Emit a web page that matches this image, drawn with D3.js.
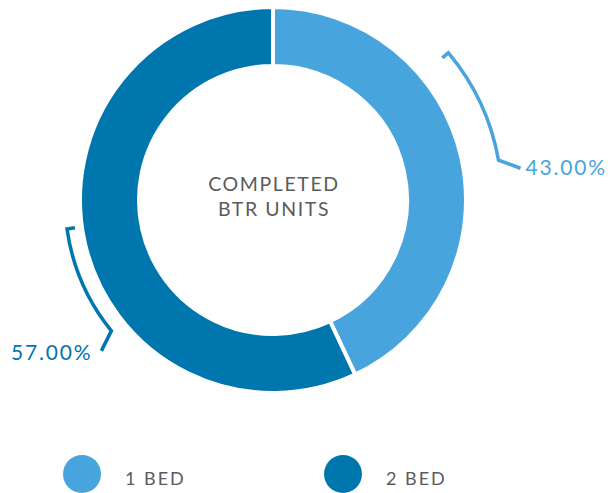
<!DOCTYPE html>
<html>
<head>
<meta charset="utf-8">
<script src="https://cdn.jsdelivr.net/npm/d3@7"></script>
<style>
  html, body { margin: 0; padding: 0; background: #fff; }
  svg { display: block; }
  text { font-family: "Lato", "Open Sans", sans-serif; }
</style>
</head>
<body>
<svg id="chart" width="615" height="493"></svg>
<script>
// Unit mix of completed build-to-rent units
const categories = ["1 BED", "2 BED"];
const shares = [43, 57];
const valueLabels = ["43.00%", "57.00%"];
const colors = ["#47a4dc", "#0076ae"];
const centerLines = ["COMPLETED", "BTR UNITS"];

const svg = d3.select("#chart");
const cx = 273, cy = 200;
const outerR = 193, innerR = 134;

const deg = d => d * Math.PI / 180;

const pie = d3.pie().sort(null).value(d => d.value);
const arcs = pie(categories.map((c, i) => ({ name: c, value: shares[i], color: colors[i], label: valueLabels[i] })));

const arc = d3.arc().innerRadius(innerR).outerRadius(outerR);

const g = svg.append("g").attr("transform", `translate(${cx},${cy})`);

g.selectAll("path.slice")
  .data(arcs)
  .join("path")
  .attr("class", "slice")
  .attr("d", arc)
  .attr("fill", d => d.data.color)
  .attr("stroke", "#fff")
  .attr("stroke-width", 4)
  .attr("stroke-linejoin", "miter");

// Centre caption
g.append("text")
  .attr("text-anchor", "middle")
  .attr("fill", "#5b5b5b")
  .attr("font-size", 19.5)
  .attr("letter-spacing", 1.6)
  .selectAll("tspan")
  .data(centerLines)
  .join("tspan")
  .attr("x", 1)
  .attr("y", (d, i) => -9 + i * 25)
  .text(d => d);

// Bracket callouts: arc outside the ring with an inward tick and a leader to the label
const brackets = [
  { r: 229, from: 50, to: 80, tick: 8, leader: [22, 8], text: [5, 7], anchor: "start" },
  { r: 208, from: 262, to: 231, tick: 8, leader: [-10, 20], text: [-9, 9], anchor: "end" }
];

const polar = (r, a) => [r * Math.sin(deg(a)), -r * Math.cos(deg(a))];

arcs.forEach((d, i) => {
  const b = brackets[i];
  const p = d3.path();
  const t0 = polar(b.r - b.tick, b.from);
  const a0 = polar(b.r, b.from);
  p.moveTo(t0[0], t0[1]);
  p.lineTo(a0[0], a0[1]);
  p.arc(0, 0, b.r, deg(b.from) - Math.PI / 2, deg(b.to) - Math.PI / 2, b.to < b.from);
  const a1 = polar(b.r, b.to);
  const e = [a1[0] + b.leader[0], a1[1] + b.leader[1]];
  p.lineTo(e[0], e[1]);

  g.append("path")
    .attr("d", p.toString())
    .attr("fill", "none")
    .attr("stroke", d.data.color)
    .attr("stroke-width", 3.5);

  g.append("text")
    .attr("x", e[0] + b.text[0])
    .attr("y", e[1] + b.text[1])
    .attr("text-anchor", b.anchor)
    .attr("fill", d.data.color)
    .attr("font-size", 21)
    .attr("letter-spacing", 1.8)
    .text(d.data.label);
});

// Legend
const legendX = d3.scalePoint().domain(categories).range([82, 343]);
const legend = svg.append("g")
  .selectAll("g")
  .data(arcs)
  .join("g")
  .attr("transform", d => `translate(${legendX(d.data.name)},474)`);

legend.append("circle")
  .attr("r", 19)
  .attr("fill", d => d.data.color);

legend.append("text")
  .attr("x", 43)
  .attr("y", 11)
  .attr("fill", "#5b5b5b")
  .attr("font-size", 18)
  .attr("letter-spacing", 2)
  .text(d => d.data.name);
</script>
</body>
</html>
